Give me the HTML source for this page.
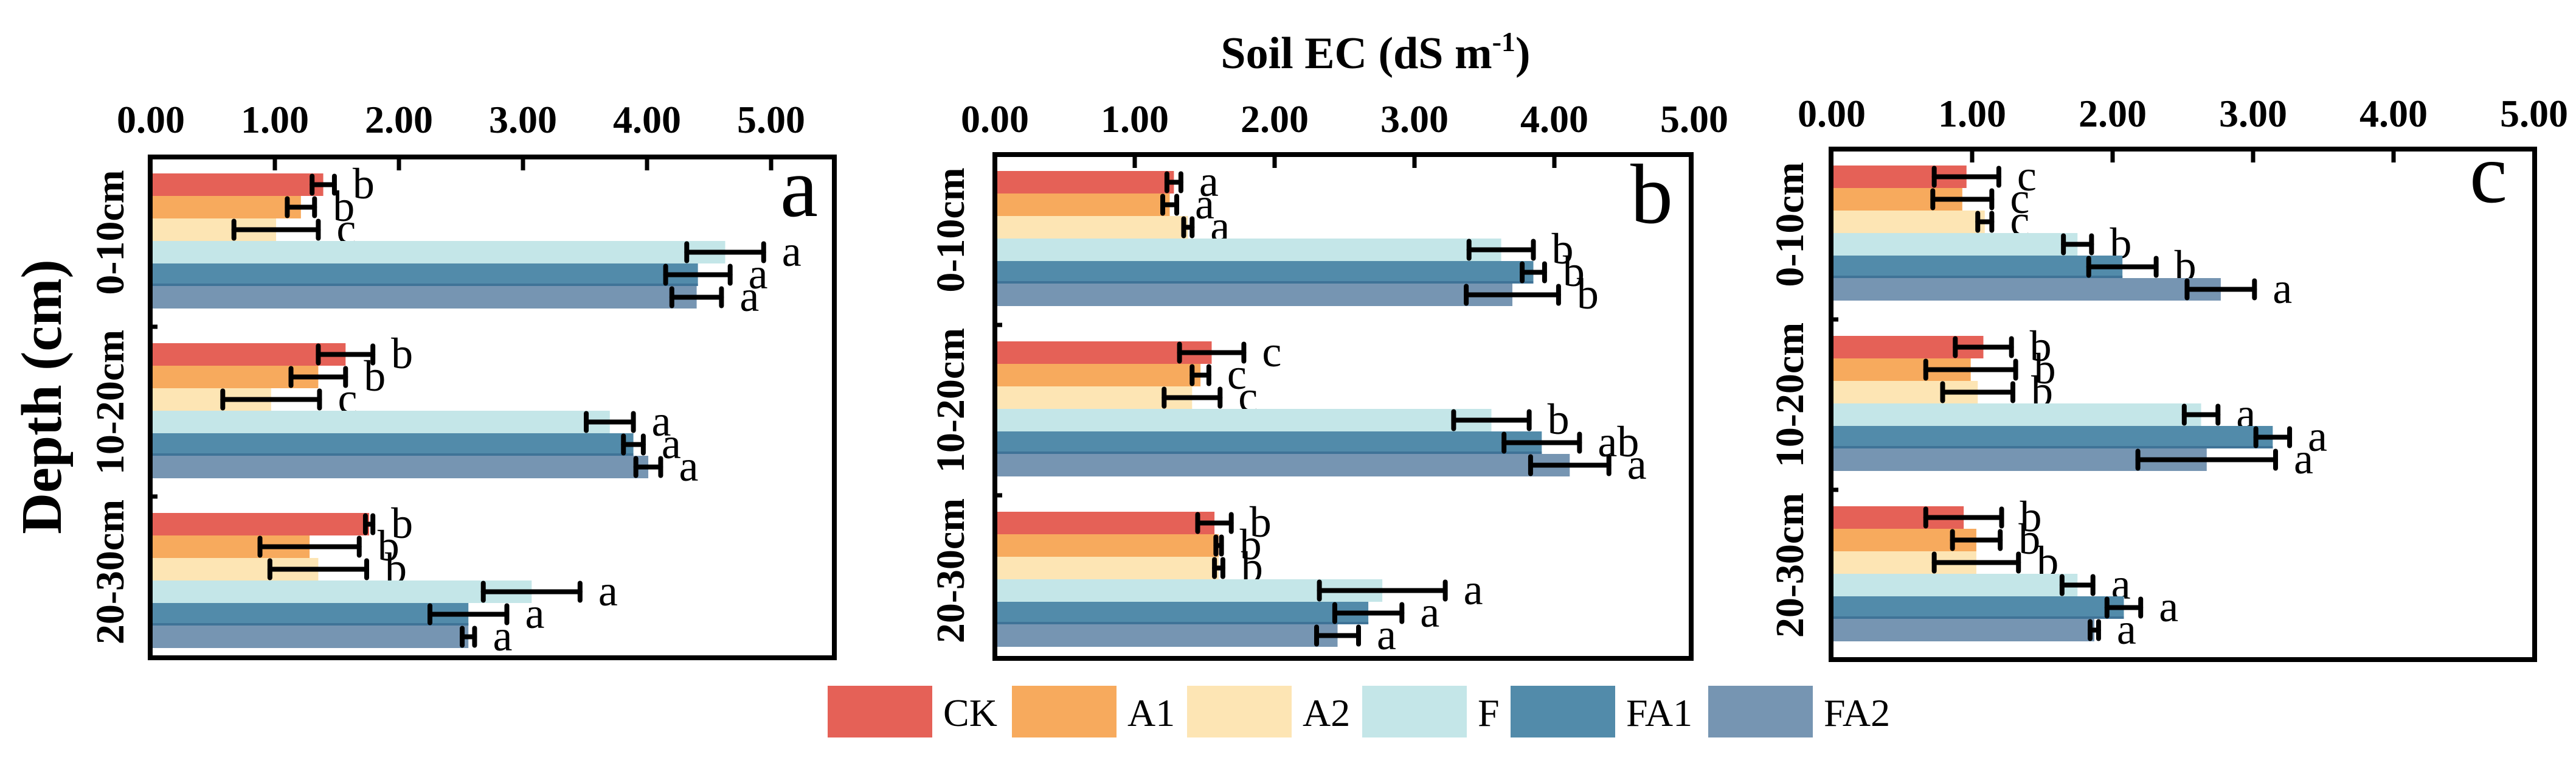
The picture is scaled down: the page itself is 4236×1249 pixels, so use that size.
<!DOCTYPE html>
<html>
<head>
<meta charset="utf-8">
<style>
html,body{margin:0;padding:0;background:#fff;}
svg{display:block;}
text{font-family:"Liberation Serif",serif;}
</style>
</head>
<body>
<svg id="chart" width="4236" height="1249" viewBox="0 0 4236 1249" xmlns="http://www.w3.org/2000/svg">
  <rect width="4236" height="1249" fill="#fff"/>
  <text x="2262" y="112" font-size="74" font-weight="bold" text-anchor="middle">Soil EC (dS m<tspan dy="-28" font-size="46">-1</tspan><tspan dy="28">)</tspan></text>
  <text transform="translate(100,652) rotate(-90)" font-size="94" font-weight="bold" text-anchor="middle">Depth (cm)</text>
  <g id="panels"></g>
  <g id="legend"></g>
</svg>
<script>
// ---- data ----
const categories = ["0-10cm", "10-20cm", "20-30cm"];
const seriesNames = ["CK", "A1", "A2", "F", "FA1", "FA2"];
const tickLabels = ["0.00", "1.00", "2.00", "3.00", "4.00", "5.00"];
const tickValues = [0, 1, 2, 3, 4, 5];
const panelLetters = ["a", "b", "c"];

// panel a
const aMeans = [[1.39,1.21,1.01,4.63,4.41,4.40],[1.57,1.35,0.97,3.70,3.89,4.01],[1.76,1.28,1.35,3.07,2.56,2.56]];
const aErrs  = [[0.09,0.11,0.34,0.31,0.26,0.20],[0.22,0.22,0.39,0.19,0.08,0.10],[0.03,0.40,0.39,0.39,0.31,0.05]];
const aSig   = [["b","b","c","a","a","a"],["b","b","c","a","a","a"],["b","b","b","a","a","a"]];
// panel b
const bMeans = [[1.28,1.25,1.38,3.62,3.85,3.70],[1.55,1.47,1.41,3.55,3.91,4.11],[1.57,1.60,1.60,2.77,2.67,2.45]];
const bErrs  = [[0.05,0.05,0.03,0.23,0.08,0.33],[0.23,0.06,0.20,0.27,0.27,0.28],[0.12,0.02,0.03,0.45,0.24,0.15]];
const bSig   = [["a","a","a","b","b","b"],["c","c","c","b","ab","a"],["b","b","b","a","a","a"]];
// panel c
const cMeans = [[0.96,0.93,1.09,1.75,2.07,2.77],[1.08,0.99,1.04,2.63,3.14,2.67],[0.94,1.03,1.03,1.75,2.08,1.87]];
const cErrs  = [[0.23,0.21,0.05,0.10,0.24,0.24],[0.20,0.32,0.25,0.12,0.12,0.49],[0.27,0.17,0.30,0.11,0.12,0.03]];
const cSig   = [["c","c","c","b","b","a"],["b","b","b","a","a","a"],["b","b","b","a","a","a"]];

const colors = ["#E56157","#F7AA5D","#FDE5B4","#C4E6E8","#528BAA","#7695B2"];
const NS = "http://www.w3.org/2000/svg";

function mk(tag, attrs, parent){
  const e = document.createElementNS(NS, tag);
  for (const k in attrs) e.setAttribute(k, attrs[k]);
  if (parent) parent.appendChild(e);
  return e;
}

const layouts = [
  {x0:248, unit:204, left:247, right:1372, top:258, bottom:1081, g0:285, gStep:279, catX:181, labBase:218, letterX:1314, letterY:355},
  {x0:1636, unit:230, left:1636, right:2781, top:254, bottom:1082, g0:281, gStep:280, catX:1563, labBase:217, letterX:2716, letterY:366},
  {x0:3012, unit:231, left:3011, right:4168, top:245, bottom:1084, g0:272, gStep:280, catX:2943, labBase:208, letterX:4092, letterY:332}
];
const panelMeans = [aMeans, bMeans, cMeans];
const panelErrs = [aErrs, bErrs, cErrs];
const panelSig = [aSig, bSig, cSig];
const barH = 37;

const root = document.getElementById("panels");
layouts.forEach((L, p) => {
  const g = mk("g", {}, root);
  
  
  const xs = v => L.x0 + v * L.unit;
  const means = panelMeans[p], errs = panelErrs[p], sig = panelSig[p];

  // bars
  categories.forEach((cat, ci) => {
    const gt = L.g0 + ci * L.gStep;
    seriesNames.forEach((s, si) => {
      const y = gt + si * barH;
      const v = means[ci][si];
      const bar = mk("rect", {x: L.left + 4, y: y, width: Math.max(0, xs(v) - L.left - 4), height: barH, fill: colors[si]}, g);
      
      
      if (si === 4) {
        mk("rect", {x: L.left + 4, y: y + barH - 4, width: Math.max(0, xs(v) - L.left - 4), height: 4, fill: "#3F7397"}, g);
      }
      const e = errs[ci][si];
      const cy = y + barH / 2;
      const x1 = xs(v - e), x2 = xs(v + e);
      const eb = mk("g", {stroke: "#000", "stroke-width": 8, "stroke-linecap": "round"}, g);
      
      
      mk("line", {x1: x1, y1: cy, x2: x2, y2: cy}, eb);
      mk("line", {x1: x1, y1: cy - 14, x2: x1, y2: cy + 14}, eb);
      mk("line", {x1: x2, y1: cy - 14, x2: x2, y2: cy + 14}, eb);
      const t = mk("text", {x: x2 + 30, y: y + barH + 4, "font-size": 72}, g);
      t.textContent = sig[ci][si];
      
      
    });
    const cl = mk("text", {transform: "translate(" + (L.catX + 22) + "," + (gt + 3 * barH - 14) + ") rotate(-90)", "font-size": 66, "font-weight": "bold", "text-anchor": "middle"}, g);
    cl.textContent = cat;
    
    
    if (ci > 0) {
      mk("line", {x1: L.left, y1: gt - 27, x2: L.left + 12, y2: gt - 27, stroke: "#000", "stroke-width": 7}, g);
    }
  });

  // ticks & labels
  tickValues.forEach((tv, ti) => {
    const x = xs(tv);
    if (tv > 0 && x < L.right - 10) {
      mk("line", {x1: x, y1: L.top, x2: x, y2: L.top + 22, stroke: "#000", "stroke-width": 7}, g);
    }
    const tl = mk("text", {x: x, y: L.labBase, "font-size": 64, "font-weight": "bold", "text-anchor": "middle"}, g);
    tl.textContent = tickLabels[ti];
    
    
  });

  const fr = mk("rect", {x: L.left, y: L.top, width: L.right - L.left, height: L.bottom - L.top, fill: "none", stroke: "#000", "stroke-width": 8}, g);
  
  

  const pl = mk("text", {x: L.letterX, y: L.letterY, "font-size": 140, "text-anchor": "middle"}, g);
  pl.textContent = panelLetters[p];
  
  
});

// legend
const legX = [1361, 1664, 1952, 2240, 2484, 2809];
const leg = document.getElementById("legend");
seriesNames.forEach((s, i) => {
  const eg = mk("g", {}, leg);
  
  
  mk("rect", {x: legX[i], y: 1127, width: 172, height: 85, fill: colors[i]}, eg);
  const t = mk("text", {x: legX[i] + 190, y: 1193, "font-size": 64}, eg);
  t.textContent = s;
});
</script>
</body>
</html>
